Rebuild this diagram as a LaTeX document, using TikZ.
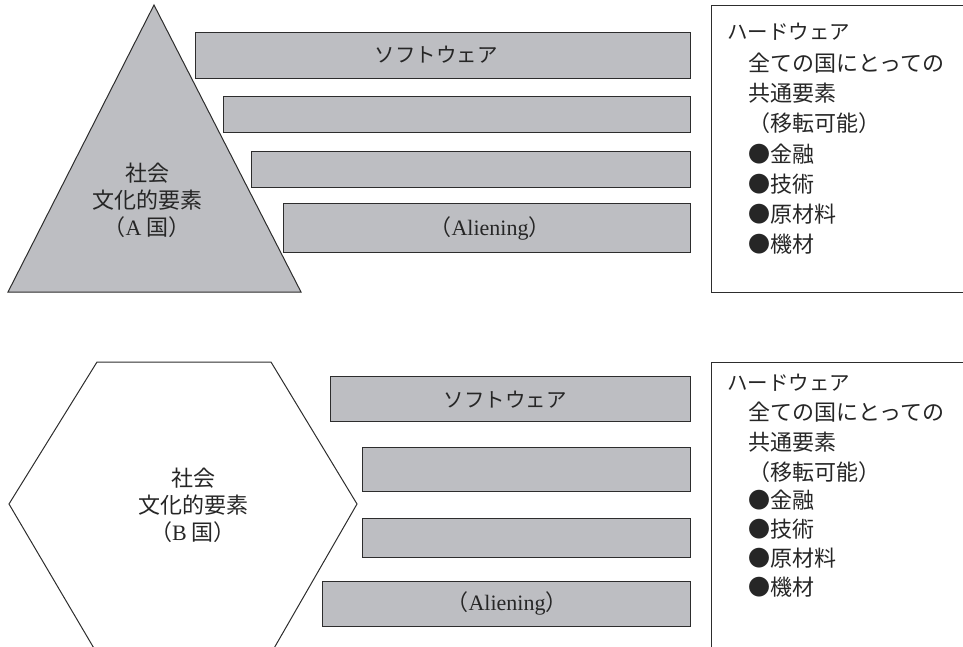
\documentclass[tikz,border=0pt]{standalone}
\usepackage{fontspec}
\setmainfont{Liberation Serif}
\newfontfamily\jp{Noto Sans CJK JP}
\definecolor{boxfill}{RGB}{189,190,194}
\definecolor{edge}{RGB}{45,45,45}
\begin{document}
\begin{tikzpicture}[x=1pt,y=-1pt,
  bar/.style={draw=edge, fill=boxfill, line width=1pt, inner sep=0pt, anchor=north west},
  outl/.style={draw=edge, line width=1pt, line join=miter},
  jtxt/.style={font=\jp\fontsize{22}{27}\selectfont, inner sep=0pt, text=black!85},
  ktxt/.style={jtxt, font=\jp\fontsize{20.5}{27}\selectfont},
  ltxt/.style={jtxt, anchor=west},
  ctr/.style={jtxt, align=center},
]
\useasboundingbox (0,0) rectangle (963,646);
\clip (0,0) rectangle (963,646);

% ---------- upper part (A) ----------
\draw[outl, fill=boxfill] (154,5) -- (301,292) -- (8,292) -- cycle;
\node[ctr] (ta) at (147,200) {社会\\文化的要素\\（{\rmfamily A} 国）};

\node[bar, minimum width=495, minimum height=46] (a1) at (195,32) {};
\node[bar, minimum width=467, minimum height=36] (a2) at (223,96) {};
\node[bar, minimum width=439, minimum height=36] (a3) at (251,151) {};
\node[bar, minimum width=407, minimum height=49] (a4) at (283,203) {};
\node[ktxt] (a1t) at (436,55) {ソフトウェア};
\node[jtxt] (a4t) at (490,228) {（{\rmfamily Aliening}）};

\draw[outl] (966,5) -- (711,5) -- (711,292) -- (966,292);
\node[ktxt, anchor=west] (h1) at (727,32) {ハードウェア};
\node[ltxt] (h2) at (748,63) {全ての国にとっての};
\node[ltxt] (h3) at (748,93) {共通要素};
\node[ltxt] (h4) at (748,123) {（移転可能）};
\node[ltxt] (h5) at (748,154) {●金融};
\node[ltxt] (h6) at (748,184) {●技術};
\node[ltxt] (h7) at (748,214) {●原材料};
\node[ltxt] (h8) at (748,244) {●機材};

% ---------- lower part (B) ----------
\draw[outl] (97,362) -- (271,362) -- (357,504) -- (273,650) -- (95,650) -- (9,504) -- cycle;
\node[ctr] (tb) at (193,505) {社会\\文化的要素\\（{\rmfamily B} 国）};

\node[bar, minimum width=360, minimum height=45] (b1) at (330,376) {};
\node[bar, minimum width=328, minimum height=44] (b2) at (362,447) {};
\node[bar, minimum width=328, minimum height=39] (b3) at (362,518) {};
\node[bar, minimum width=368, minimum height=45] (b4) at (322,581) {};
\node[ktxt] (b1t) at (505,400) {ソフトウェア};
\node[jtxt] (b4t) at (507,603) {（{\rmfamily Aliening}）};

\draw[outl] (966,362) -- (711,362) -- (711,650);
\node[ktxt, anchor=west] (k1) at (727,383) {ハードウェア};
\node[ltxt] (k2) at (748,412) {全ての国にとっての};
\node[ltxt] (k3) at (748,442) {共通要素};
\node[ltxt] (k4) at (748,472) {（移転可能）};
\node[ltxt] (k5) at (748,500) {●金融};
\node[ltxt] (k6) at (748,529) {●技術};
\node[ltxt] (k7) at (748,558) {●原材料};
\node[ltxt] (k8) at (748,587) {●機材};
\end{tikzpicture}
\end{document}
